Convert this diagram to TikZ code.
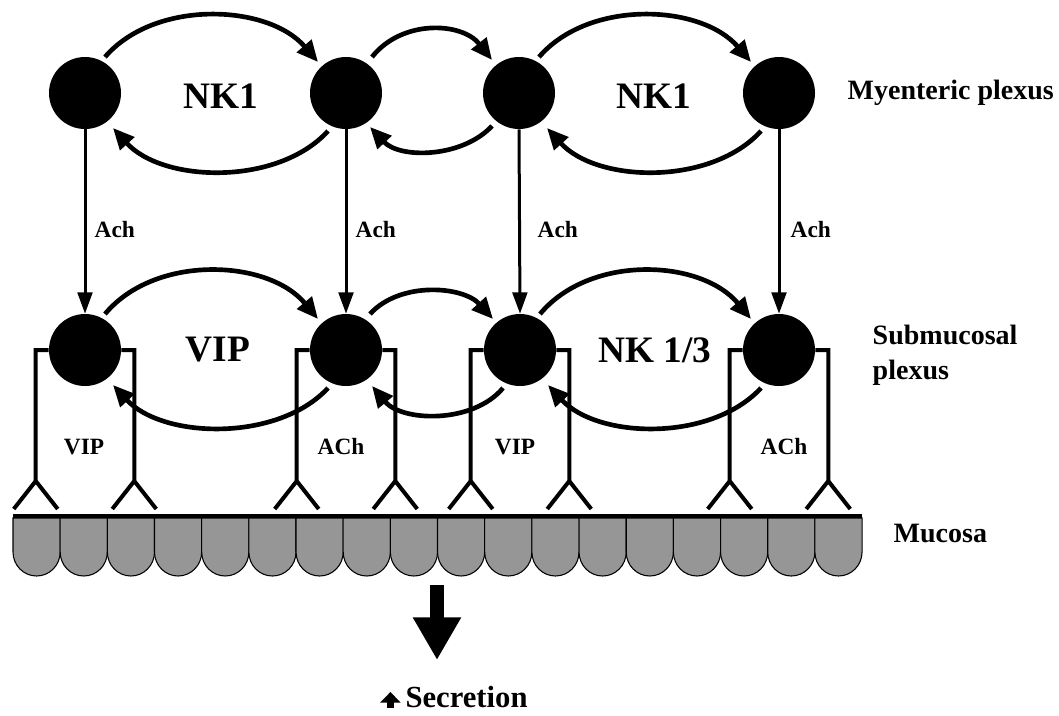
\documentclass[tikz,border=0pt]{standalone}
\usepackage{fontspec}
\setmainfont{Liberation Serif}
\usetikzlibrary{arrows.meta}

\begin{document}
\begin{tikzpicture}[x=0.75pt,y=0.75pt,yscale=-1,xscale=1,
  neuron/.style={circle,fill=black,inner sep=0pt,minimum size=54pt},
  link/.style={line width=3.5pt,-{Triangle[length=16pt,width=14pt]}},
  drive/.style={line width=2.25pt,-{Triangle[length=16pt,width=11pt]}},
  dendrite/.style={line width=3pt},
  cell/.style={draw=black,line width=0.8pt,fill={rgb,255:red,150;green,150;blue,150}},
  big/.style={font=\fontsize{28}{30}\selectfont\bfseries},
  side/.style={font=\fontsize{21}{26}\selectfont\bfseries,anchor=west,align=left},
  tiny/.style={font=\fontsize{17.5}{20}\selectfont\bfseries}]
\useasboundingbox (0,0) rectangle (1059,715);

%myenteric neurons
\node[neuron] (m1) at (85,93) {};
\node[neuron] (m2) at (346,93) {};
\node[neuron] (m3) at (519,93) {};
\node[neuron] (m4) at (779,93) {};
%submucosal neurons
\node[neuron] (s1) at (85,350) {};
\node[neuron] (s2) at (346,350) {};
\node[neuron] (s3) at (520,350) {};
\node[neuron] (s4) at (779,350) {};

%loops in the myenteric plexus
\draw[link] ([shift={(20,-36)}]m1.center) .. controls +(50,-58) and +(-50,-58) .. ([shift={(-28,-31)}]m2.center);
\draw[link] ([shift={(-18,38)}]m2.center) .. controls +(-50,55) and +(50,55) .. ([shift={(28,35)}]m1.center);
\draw[link] ([shift={(26,-36)}]m2.center) .. controls +(30,-38) and +(-30,-38) .. ([shift={(-27,-33)}]m3.center);
\draw[link] ([shift={(-27,33)}]m3.center) .. controls +(-30,32) and +(30,32) .. ([shift={(24,34)}]m2.center);
\draw[link] ([shift={(20,-36)}]m3.center) .. controls +(50,-58) and +(-50,-58) .. ([shift={(-28,-31)}]m4.center);
\draw[link] ([shift={(-18,38)}]m4.center) .. controls +(-50,55) and +(50,55) .. ([shift={(28,35)}]m3.center);
%loops in the submucosal plexus
\draw[link] ([shift={(20,-36)}]s1.center) .. controls +(50,-60) and +(-50,-60) .. ([shift={(-28,-31)}]s2.center);
\draw[link] ([shift={(-18,38)}]s2.center) .. controls +(-50,54) and +(50,54) .. ([shift={(28,35)}]s1.center);
\draw[link] ([shift={(24,-36)}]s2.center) .. controls +(30,-33) and +(-30,-33) .. ([shift={(-27,-31)}]s3.center);
\draw[link] ([shift={(-17,38)}]s3.center) .. controls +(-30,36) and +(30,36) .. ([shift={(26,36)}]s2.center);
\draw[link] ([shift={(20,-36)}]s3.center) .. controls +(50,-60) and +(-50,-60) .. ([shift={(-28,-31)}]s4.center);
\draw[link] ([shift={(-18,38)}]s4.center) .. controls +(-50,54) and +(50,54) .. ([shift={(28,35)}]s3.center);

%cholinergic drive
\foreach \i in {1,...,4}
  \draw[drive] (m\i.south) -- (s\i.north);
\node[tiny,anchor=west] (a1) at (90,230) {Ach};
\node[tiny,anchor=west] (a2) at (351,230) {Ach};
\node[tiny,anchor=west] (a3) at (533,230) {Ach};
\node[tiny,anchor=west] (a4) at (786,230) {Ach};

%processes down to the mucosa
\foreach \n in {s1,s2,s3,s4} {
  \draw[dendrite] (\n.west) -- ++(-13,0) -- ++(0,131) -- ++(-22,28) ++(22,-28) -- ++(22,28);
  \draw[dendrite] (\n.east) -- ++(13,0) -- ++(0,131) -- ++(-22,28) ++(22,-28) -- ++(22,28);
}
\node[tiny] (v1) at (84,447) {VIP};
\node[tiny] (c1) at (341,447) {ACh};
\node[tiny] (v2) at (515,447) {VIP};
\node[tiny] (c2) at (784,447) {ACh};

%mucosa
\foreach \i in {0,...,17}
  \draw[cell] ({13+47.17*\i},518) -- ++(0,34) arc[start angle=180,end angle=0,x radius=23.58,y radius=24] -- ++(0,-34) -- cycle;
\draw[line width=3pt] (13,516) -- (862,516);

%labels
\node[big] (nk1) at (221,96) {NK1};
\node[big] (nk2) at (654,96) {NK1};
\node[big] (vip) at (218,350) {VIP};
\node[big] (nk3) at (655,350) {NK 1/3};
\node[side] (myp) at (843,93) {Myenteric plexus};
\node[side] (smp) at (868,355) {Submucosal\\plexus};
\node[side] (muc) at (889,533) {Mucosa};

%secretion
\coordinate (out) at (437,585);
\coordinate (outend) at (437,660);
\draw[line width=11pt,-{Triangle[length=32pt,width=34pt]}] (out) -- (outend);
\node[font=\fontsize{23}{25}\selectfont\bfseries,inner sep=1pt] (sec) at (454,699)
  {\tikz[baseline=0pt]\draw[line width=5pt,-{Triangle[length=8pt,width=15pt]}] (0,0) -- (0,12pt);\,Secretion};

\end{tikzpicture}
\end{document}
